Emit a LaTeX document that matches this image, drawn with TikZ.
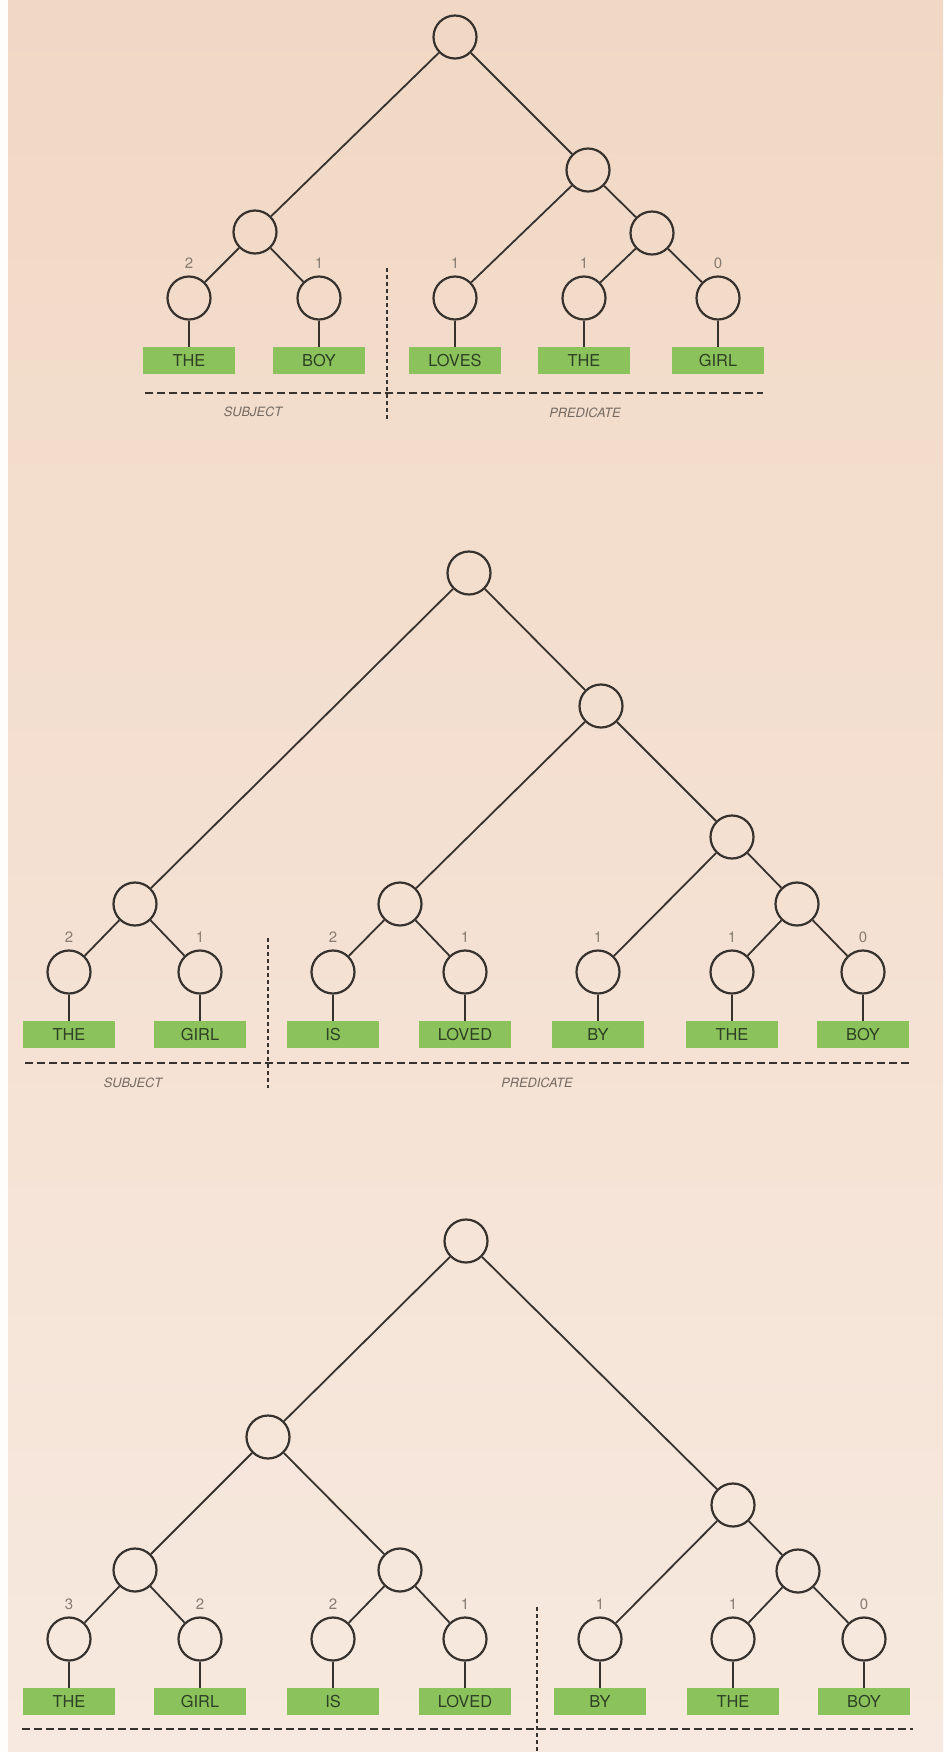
\documentclass[tikz,border=0pt]{standalone}
\usepackage{fontspec}
\setmainfont{TeX Gyre Heros}
\usetikzlibrary{positioning}
\definecolor{papertop}{RGB}{241,216,197}
\definecolor{papermid}{RGB}{245,226,211}
\definecolor{paperbot}{RGB}{247,233,223}
\definecolor{leafgreen}{RGB}{140,194,92}
\definecolor{ink}{RGB}{55,50,46}
\definecolor{wordink}{RGB}{44,64,36}
\definecolor{numgray}{RGB}{135,124,114}
\tikzstyle{knot} = [circle, draw=ink, line width=1.1pt, minimum size=21.5pt,
inner sep=0pt, label distance=2.5pt]
\tikzstyle{word} = [rectangle, fill=leafgreen, minimum width=46pt,
minimum height=13.5pt, inner sep=0pt, text=wordink,
font=\fontsize{8.2}{8.2}\selectfont, node distance=13pt]
\tikzstyle{num} = [font=\fontsize{7.5}{7.5}\selectfont, text=numgray]
\tikzstyle{caption} = [font=\fontsize{6.4}{6.4}\selectfont\itshape, text=numgray!85!black]
\tikzstyle{every label} += [num]
\tikzstyle{split} = [ink, line width=0.9pt, dash pattern=on 4pt off 2pt]
\tikzstyle{cut} = [ink, line width=0.8pt, dash pattern=on 2pt off 1.5pt]
\newcommand{\edge}[2]{ %
  % Join node #1 to all nodes #2.
  \foreach \y in {#2} { %
    \draw[ink, line width=0.9pt] (#1) -- (\y) ;%
  } ;
}

\begin{document}
\begin{tikzpicture}[x=0.5pt, y=-0.5pt]
  \shade[top color=papertop, middle color=papermid, bottom color=paperbot] (0,0) rectangle (943,1752);
  \fill[white!94!papertop] (0,0) rectangle (8,1752);
  \useasboundingbox (0,0) rectangle (943,1752);

  % the boy loves the girl
  \node[knot] (ra) at (455,37) {};
  \node[knot] (pa) at (588,170) {};
  \node[knot] (sa) at (255,232) {};
  \node[knot] (qa) at (652,233) {};
  \foreach \i/\x/\n/\w in {1/189/2/THE, 2/319/1/BOY, 3/455/1/LOVES, 4/584/1/THE, 5/718/0/GIRL} {
    \node[knot, label=above:\n] (la\i) at (\x,298) {};
    \node[word, below=of la\i] (wa\i) {\w};
    \edge{la\i}{wa\i}
  }
  \edge{ra}{sa,pa}
  \edge{sa}{la1,la2}
  \edge{pa}{la3,qa}
  \edge{qa}{la4,la5}
  \draw[split] (145,393) -- (763,393);
  \draw[cut] (387,268) -- (387,422);
  \node[caption] (subja) at (253,412) {SUBJECT};
  \node[caption] (preda) at (585,413) {PREDICATE};

  % the girl is loved by the boy
  \node[knot] (rb) at (469,573) {};
  \node[knot] (pb) at (601,706) {};
  \node[knot] (bb) at (732,837) {};
  \node[knot] (sb) at (135,904) {};
  \node[knot] (ib) at (400,904) {};
  \node[knot] (tb) at (797,904) {};
  \foreach \i/\x/\n/\w in {1/69/2/THE, 2/200/1/GIRL, 3/333/2/IS, 4/465/1/LOVED,
                           5/598/1/BY, 6/732/1/THE, 7/863/0/BOY} {
    \node[knot, label=above:\n] (lb\i) at (\x,972) {};
    \node[word, below=of lb\i] (wb\i) {\w};
    \edge{lb\i}{wb\i}
  }
  \edge{rb}{sb,pb}
  \edge{sb}{lb1,lb2}
  \edge{pb}{ib,bb}
  \edge{ib}{lb3,lb4}
  \edge{bb}{lb5,tb}
  \edge{tb}{lb6,lb7}
  \draw[split] (25,1063) -- (912,1063);
  \draw[cut] (268,938) -- (268,1088);
  \node[caption] (subjb) at (133,1083) {SUBJECT};
  \node[caption] (predb) at (537,1083) {PREDICATE};

  % same words, split after the verb
  \node[knot] (rc) at (466,1241) {};
  \node[knot] (ac) at (268,1437) {};
  \node[knot] (bc) at (733,1505) {};
  \node[knot] (sc) at (135,1570) {};
  \node[knot] (ic) at (400,1570) {};
  \node[knot] (tc) at (798,1571) {};
  \foreach \i/\x/\n/\w in {1/69/3/THE, 2/200/2/GIRL, 3/333/2/IS, 4/465/1/LOVED,
                           5/600/1/BY, 6/733/1/THE, 7/864/0/BOY} {
    \node[knot, label=above:\n] (lc\i) at (\x,1639) {};
    \node[word, below=of lc\i] (wc\i) {\w};
    \edge{lc\i}{wc\i}
  }
  \edge{rc}{ac,bc}
  \edge{ac}{sc,ic}
  \edge{sc}{lc1,lc2}
  \edge{ic}{lc3,lc4}
  \edge{bc}{lc5,tc}
  \edge{tc}{lc6,lc7}
  \draw[split] (22,1729) -- (913,1729);
  \draw[cut] (537,1607) -- (537,1752);
\end{tikzpicture}
\end{document}
